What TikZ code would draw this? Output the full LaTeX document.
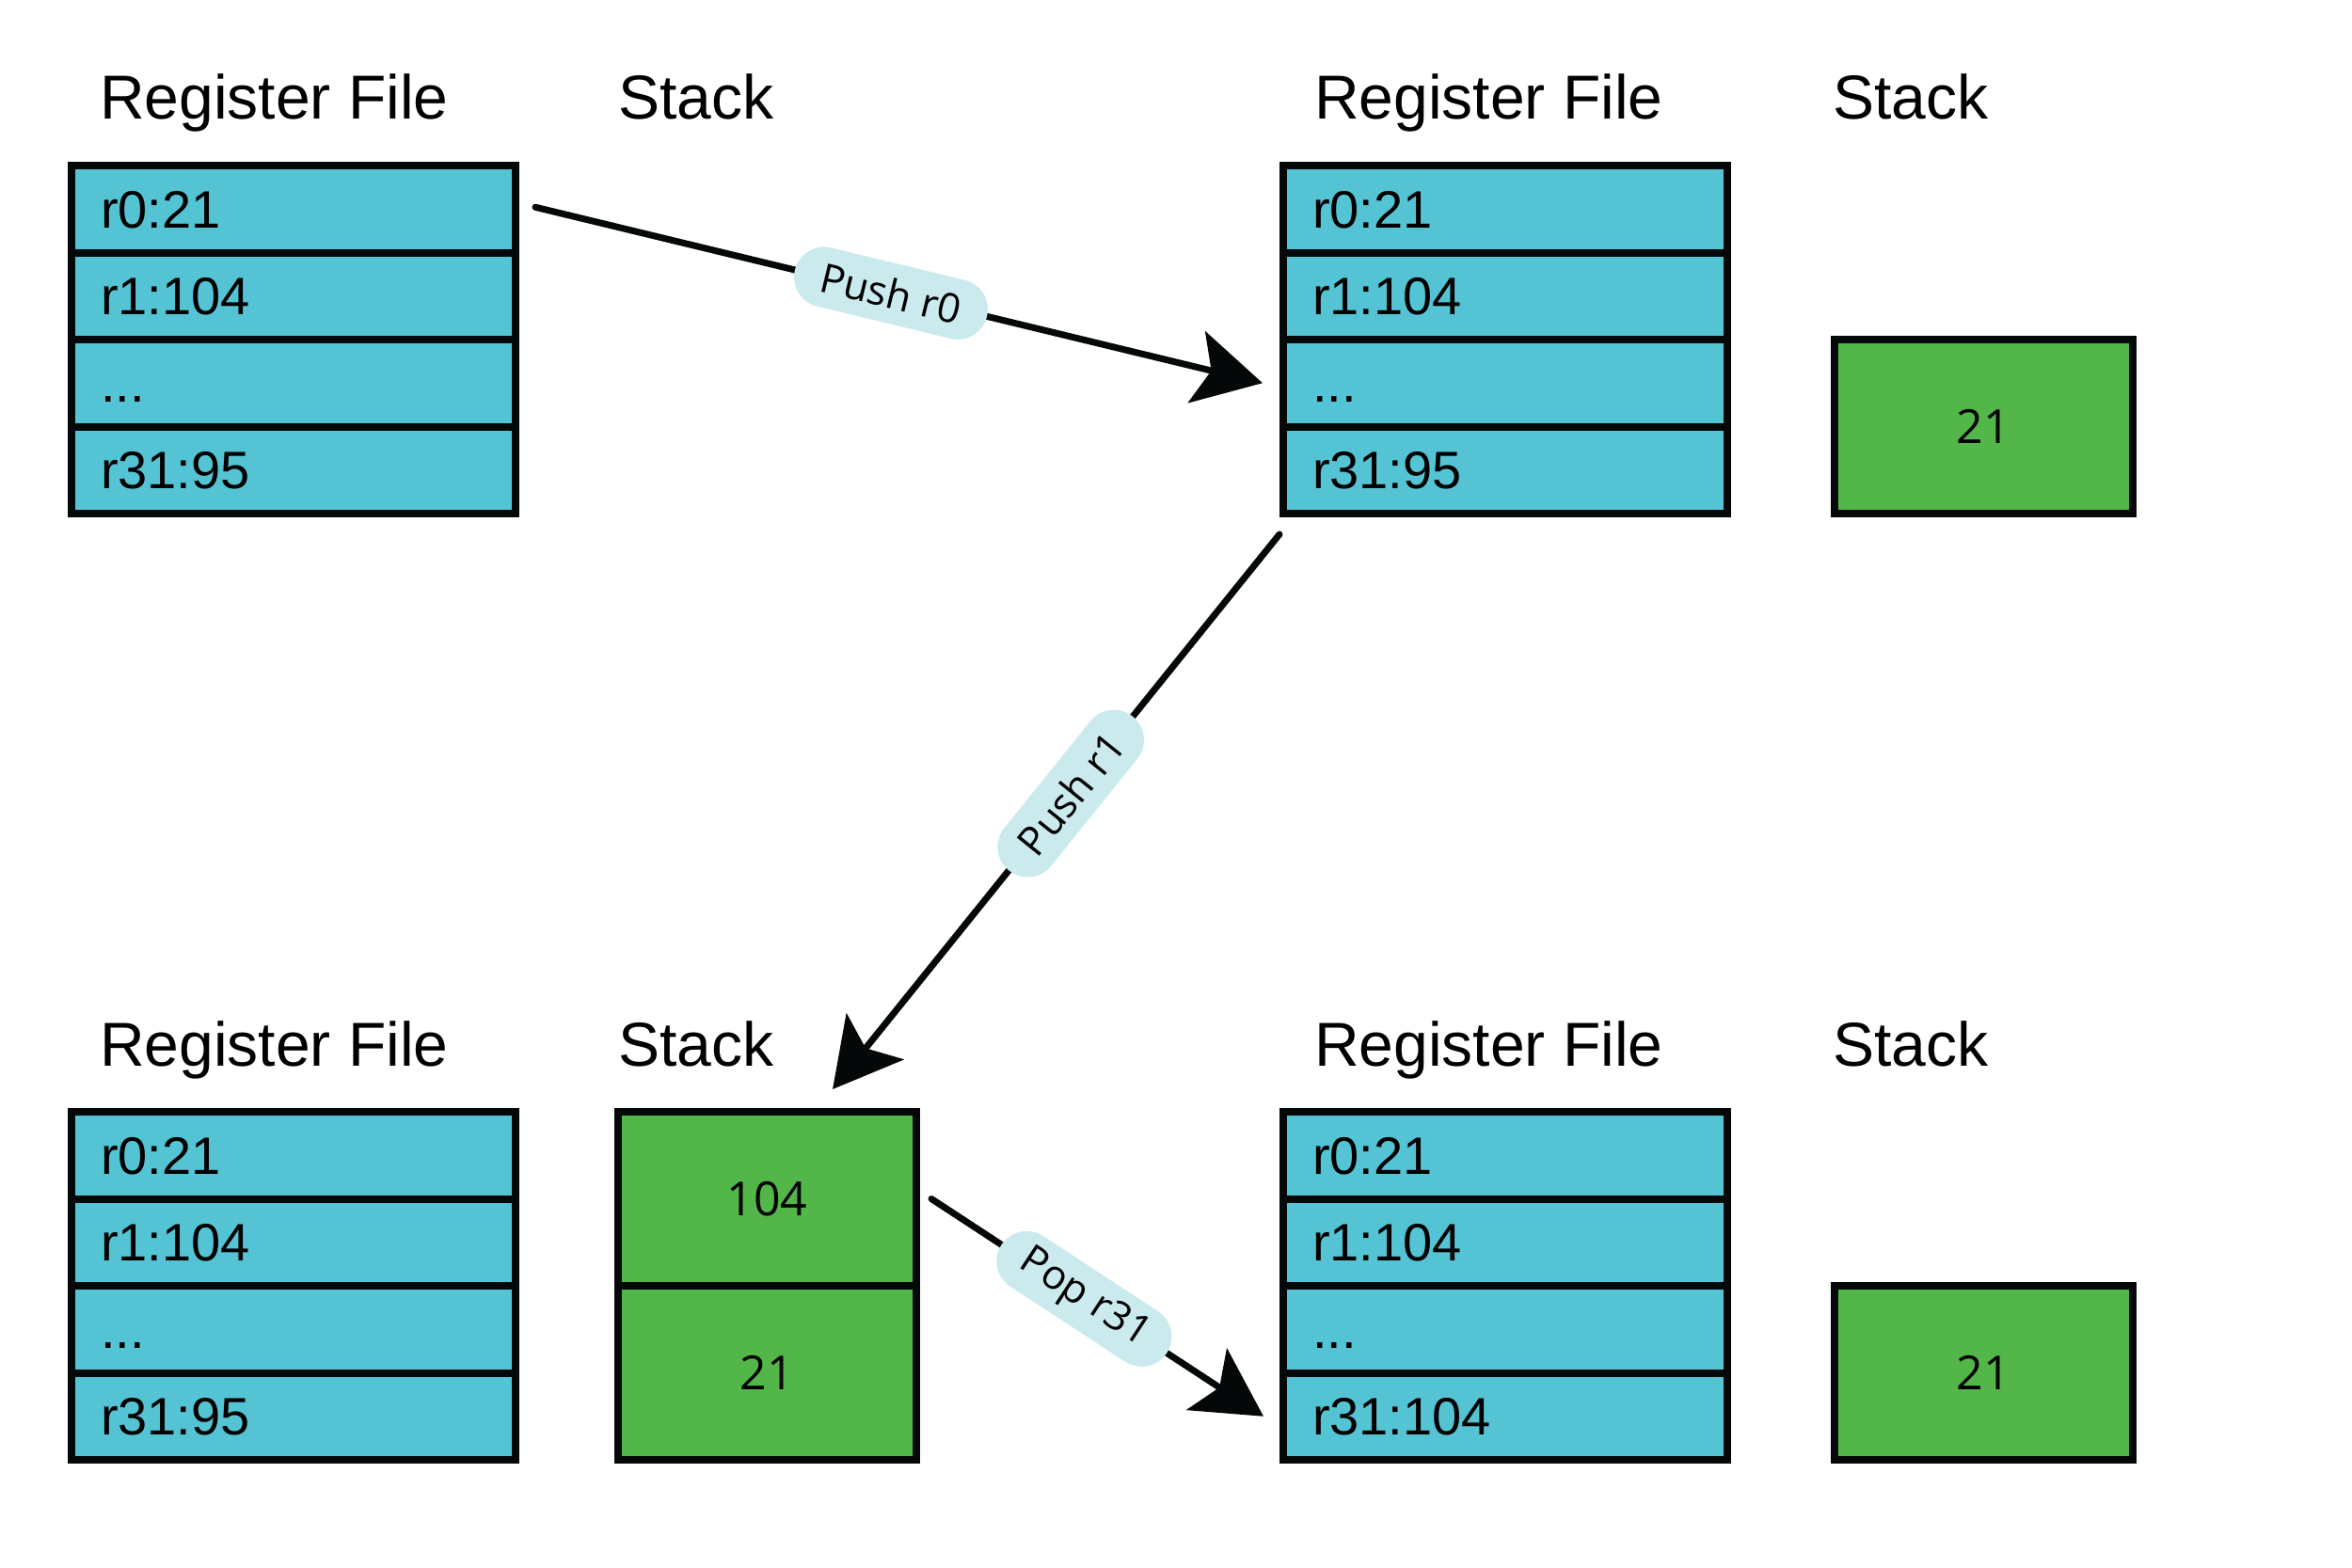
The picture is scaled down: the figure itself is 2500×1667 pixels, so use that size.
\documentclass[tikz,border=0pt]{standalone}
\usepackage{fontspec}
\setmainfont{Liberation Sans}
\newfontfamily\labfont{Open Sans}
\usetikzlibrary{arrows.meta}
\definecolor{regcyan}{HTML}{54C4D5}
\definecolor{stackgreen}{HTML}{52B748}
\definecolor{pillblue}{HTML}{CAEAEE}
\definecolor{lineblack}{HTML}{050808}
\begin{document}
\begin{tikzpicture}[x=1pt,y=-1pt,
  regcell/.style={draw=lineblack, line width=8pt, fill=regcyan, text width=410pt, align=left,
    inner xsep=31pt, inner ysep=0pt, minimum height=92.5pt, text height=40pt, text depth=0pt,
    font=\fontsize{56}{60}\selectfont},
  stackcell/.style={draw=lineblack, line width=8pt, fill=stackgreen, minimum width=317pt,
    minimum height=185pt, inner sep=0pt, font=\labfont\fontsize{50}{56}\selectfont},
  title/.style={anchor=base west, inner sep=0pt, font=\fontsize{66}{72}\selectfont},
  pill/.style={fill=pillblue, rounded corners=32pt, minimum width=210pt, minimum height=64pt,
    inner sep=0pt, sloped, font=\labfont\fontsize{43}{47}\selectfont},
  arrowline/.style={draw=lineblack, line width=7pt, line cap=round,
    -{Stealth[length=72pt,width=78pt,inset=16pt]}}
]
\useasboundingbox (0,0) rectangle (2500,1667);

% titles
\node[title] (t1) at (106,127) {Register File};
\node[title] (t2) at (657,127) {Stack};
\node[title] (t3) at (1397,127) {Register File};
\node[title] (t4) at (1948,127) {Stack};
\node[title] (t5) at (106,1133) {Register File};
\node[title] (t6) at (657,1133) {Stack};
\node[title] (t7) at (1397,1133) {Register File};
\node[title] (t8) at (1948,1133) {Stack};

% top-left register file
\node[regcell] (a0) at (312,222.25) {r0:21};
\node[regcell] (a1) at (312,314.75) {r1:104};
\node[regcell] (a2) at (312,407.25) {...};
\node[regcell] (a3) at (312,499.75) {r31:95};

% top-right register file
\node[regcell] (b0) at (1600,222.25) {r0:21};
\node[regcell] (b1) at (1600,314.75) {r1:104};
\node[regcell] (b2) at (1600,407.25) {...};
\node[regcell] (b3) at (1600,499.75) {r31:95};
\node[stackcell] (tt) at (2108.5,453.5) {21};

% bottom-left
\node[regcell] (c0) at (312,1228.25) {r0:21};
\node[regcell] (c1) at (312,1320.75) {r1:104};
\node[regcell] (c2) at (312,1413.25) {...};
\node[regcell] (c3) at (312,1505.75) {r31:95};
\node[stackcell] (s1) at (815.5,1274.5) {104};
\node[stackcell] (s2) at (815.5,1459.5) {21};

% bottom-right
\node[regcell] (d0) at (1600,1228.25) {r0:21};
\node[regcell] (d1) at (1600,1320.75) {r1:104};
\node[regcell] (d2) at (1600,1413.25) {...};
\node[regcell] (d3) at (1600,1505.75) {r31:104};
\node[stackcell] (uu) at (2108.5,1459.5) {21};

% arrows
\draw[arrowline] ([xshift=17pt,yshift=2pt]a0.east) -- node[pill,pos=0.489] {Push r0} ([xshift=-18pt]b2.west);
\draw[arrowline] ([yshift=-18pt]b3.south west) -- node[pill,pos=0.467] {Push r1} ([xshift=69.5pt,yshift=20pt]s1.north);
\draw[arrowline] ([xshift=12pt]s1.east) -- node[pill,pos=0.46] {Pop r31} ([xshift=-17pt]d3.west);
\end{tikzpicture}
\end{document}
